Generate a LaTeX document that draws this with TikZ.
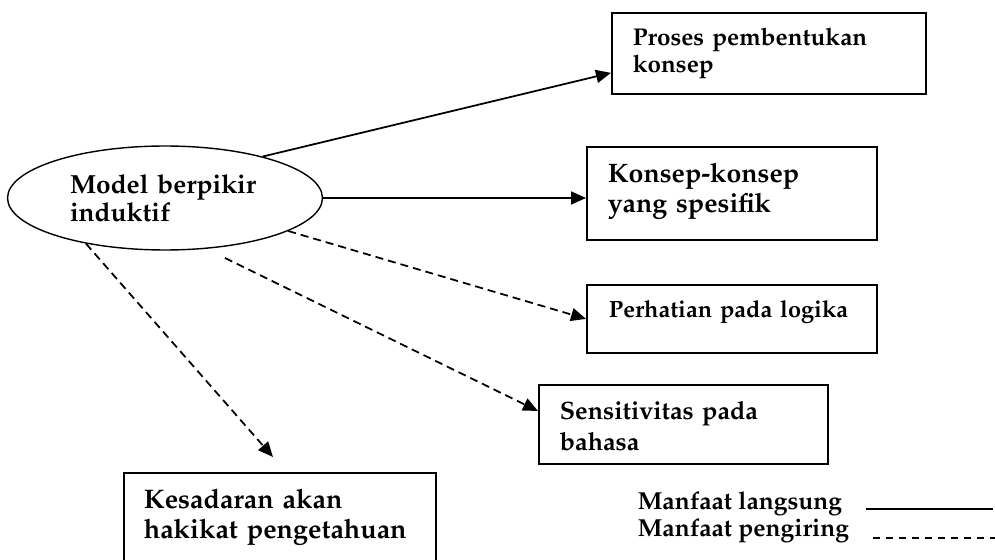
\documentclass[tikz,border=0pt]{standalone}
\IfFileExists{mathpazo.sty}{%
  \usepackage[T1]{fontenc}
  \usepackage{mathpazo}
}{%
  \usepackage{fontspec}
  \setmainfont{Liberation Serif}
}
\usetikzlibrary{shapes.geometric, arrows.meta, positioning}

\begin{document}
\begin{tikzpicture}[
    x=0.02cm, y=-0.02cm,
    line width=1pt,
    box/.style={draw, rectangle, anchor=north west, inner ysep=0pt, align=left},
    arrowline/.style={-{Triangle[length=0.3cm, width=0.26cm]}},
    sideline/.style={arrowline, dash pattern=on 0.16cm off 0.1cm},
]
\useasboundingbox (0,0) rectangle (995,560);

\node[ellipse, draw, line width=0.8pt, minimum width=6.3cm, minimum height=2.08cm, inner sep=0pt,
      text width=3.8cm, align=left, font={\fontsize{14.9}{15.6}\selectfont\bfseries}]
    (model) at (165,198) {Model berpikir\\induktif};

\node[box, text width=5.44cm, inner xsep=0.42cm, text height=0.66cm, text depth=0.96cm,
      font={\fontsize{13.8}{15.4}\selectfont\bfseries}]
    (proses) at (611,12) {Proses pembentukan\\konsep};
\node[box, text width=4.96cm, inner xsep=0.42cm, text height=0.72cm, text depth=1.14cm,
      font={\fontsize{15.2}{17}\selectfont\bfseries}]
    (spesifik) at (586,146) {Konsep-konsep\\yang spesifik};
\node[box, text width=4.92cm, inner xsep=0.44cm, text height=0.66cm, text depth=0.7cm,
      font={\fontsize{13.4}{17}\selectfont\bfseries}]
    (logika) at (586,284) {Perhatian pada logika};
\node[box, text width=4.94cm, inner xsep=0.42cm, text height=0.7cm, text depth=0.88cm,
      font={\fontsize{14.3}{17.5}\selectfont\bfseries}]
    (bahasa) at (538,384) {Sensitivitas pada\\bahasa};
\node[box, text width=5.44cm, inner xsep=0.4cm, text height=0.72cm, text depth=1.34cm,
      font={\fontsize{15.3}{17}\selectfont\bfseries}]
    (hakikat) at (123,472) {Kesadaran akan\\hakikat pengetahuan};

\draw[arrowline] (model.23) -- ([yshift=-0.39cm]proses.west);
\draw[arrowline] (model.east) -- (model.east -| spesifik.west);
\draw[sideline] (model.-15) -- (logika.west);
\draw[sideline] ([shift={(0.2cm,-0.2cm)}]model.-45) -- ([yshift=-0.54cm]bahasa.north west);
\draw[sideline] (model.210) -- ([shift={(3cm,0.3cm)}]hakikat.north west);

% keterangan
\node[anchor=base west, inner sep=0pt, font={\fontsize{14}{15}\selectfont\bfseries}]
    (legDirect) at (637,510) {Manfaat langsung};
\node[anchor=base west, inner sep=0pt, font={\fontsize{14}{15}\selectfont\bfseries}]
    (legSide) at (637,537) {Manfaat pengiring};
\coordinate (directA) at (866,509);
\coordinate (directB) at (993,509);
\coordinate (sideA) at (873,538);
\coordinate (sideB) at (995,538);
\draw (directA) -- (directB);
\draw[dash pattern=on 0.14cm off 0.12cm] (sideA) -- (sideB);

\end{tikzpicture}
\end{document}
